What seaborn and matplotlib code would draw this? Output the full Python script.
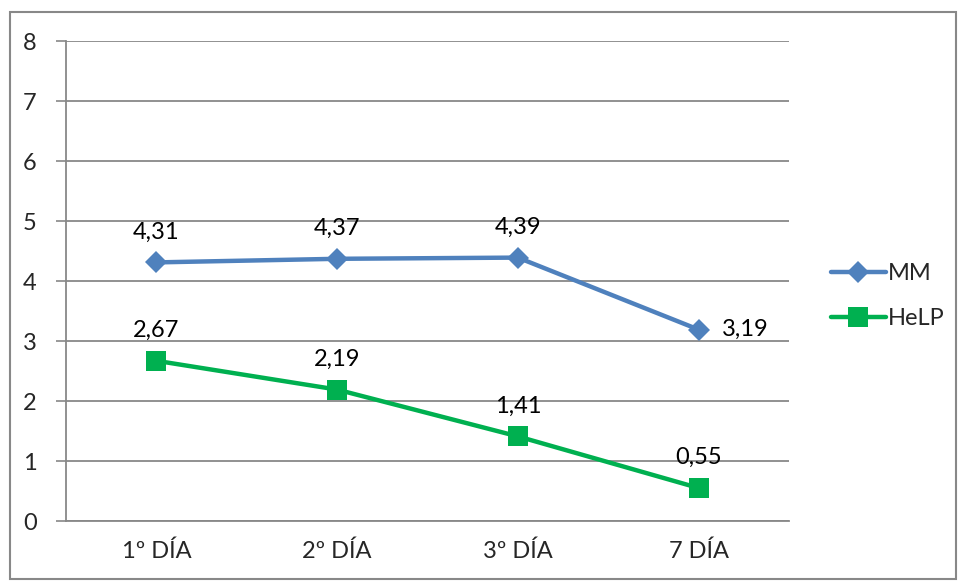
import matplotlib

matplotlib.use("Agg")
import matplotlib.pyplot as plt
import pandas as pd
import seaborn as sns
from matplotlib.patches import Rectangle

days = ["1º DÍA", "2º DÍA", "3º DÍA", "7 DÍA"]
mm = [4.31, 4.37, 4.39, 3.19]
help_vals = [2.67, 2.19, 1.41, 0.55]
series_names = ["MM", "HeLP"]
colors = {"MM": "#4F81BD", "HeLP": "#00B050"}
markers = {"MM": "D", "HeLP": "s"}
msizes = {"MM": 11, "HeLP": 14}

sns.set_theme(style="white")
plt.rcParams["font.family"] = ["Lato", "DejaVu Sans"]
FS = 17

df = pd.DataFrame({"day": days * 2,
                   "pos": list(range(len(days))) * 2,
                   "value": mm + help_vals,
                   "series": ["MM"] * len(days) + ["HeLP"] * len(days)})

fig = plt.figure(figsize=(9.58, 5.81), dpi=100)
ax = fig.add_axes([66 / 958, 1 - 521 / 581, 723 / 958, 480 / 581])

for name in series_names:
    d = df[df["series"] == name]
    sns.lineplot(data=d, x="pos", y="value", ax=ax, color=colors[name],
                 lw=3.2, marker=markers[name], markersize=msizes[name],
                 markeredgewidth=0, label=name)


def fmt(v):
    return f"{v:.2f}".replace(".", ",")


# data labels
for i, v in enumerate(mm):
    if i == len(mm) - 1:
        ax.annotate(fmt(v), (i, v), xytext=(17, 0),
                    textcoords="offset points", ha="left", va="center",
                    fontsize=FS, color="black")
    else:
        ax.annotate(fmt(v), (i, v), xytext=(0, 22),
                    textcoords="offset points", ha="center", va="center",
                    fontsize=FS, color="black")
for i, v in enumerate(help_vals):
    ax.annotate(fmt(v), (i, v), xytext=(0, 22),
                textcoords="offset points", ha="center", va="center",
                fontsize=FS, color="black")

ax.set_xlim(-0.5, len(days) - 0.5)
ax.set_ylim(0, 8)
ax.set_yticks(range(0, 9))
ax.set_xticks(range(len(days)))
ax.set_xticklabels(days)
ax.set_xticks([x - 0.5 for x in range(len(days) + 1)], minor=True)
ax.tick_params(axis="x", which="major", length=0, pad=14, labelsize=FS)
ax.tick_params(axis="x", which="minor", length=7, width=1.2, color="#888888")
ax.tick_params(axis="y", length=7, width=1.2, color="#888888", pad=14,
               labelsize=FS, left=True)
ax.set_xlabel("")
ax.set_ylabel("")
ax.grid(axis="y", color="#888888", lw=1.3)
ax.set_axisbelow(True)
for s in ["top", "right"]:
    ax.spines[s].set_visible(False)
for s in ["left", "bottom"]:
    ax.spines[s].set_color("#888888")
    ax.spines[s].set_linewidth(1.3)

ax.get_legend().remove()
handles, labels = ax.get_legend_handles_labels()
fig.legend(handles, labels, loc="center left",
           bbox_to_anchor=(810 / 958, 1 - 296 / 581), frameon=False,
           fontsize=FS, handlelength=2.3, handletextpad=0.1,
           labelspacing=1.0)

fig.patches.append(Rectangle((10 / 958, 2 / 581), 946 / 958, 567 / 581,
                             transform=fig.transFigure, fill=False,
                             edgecolor="#888888", lw=1.5))

fig.savefig("out.png", dpi=100)
plt.close(fig)
